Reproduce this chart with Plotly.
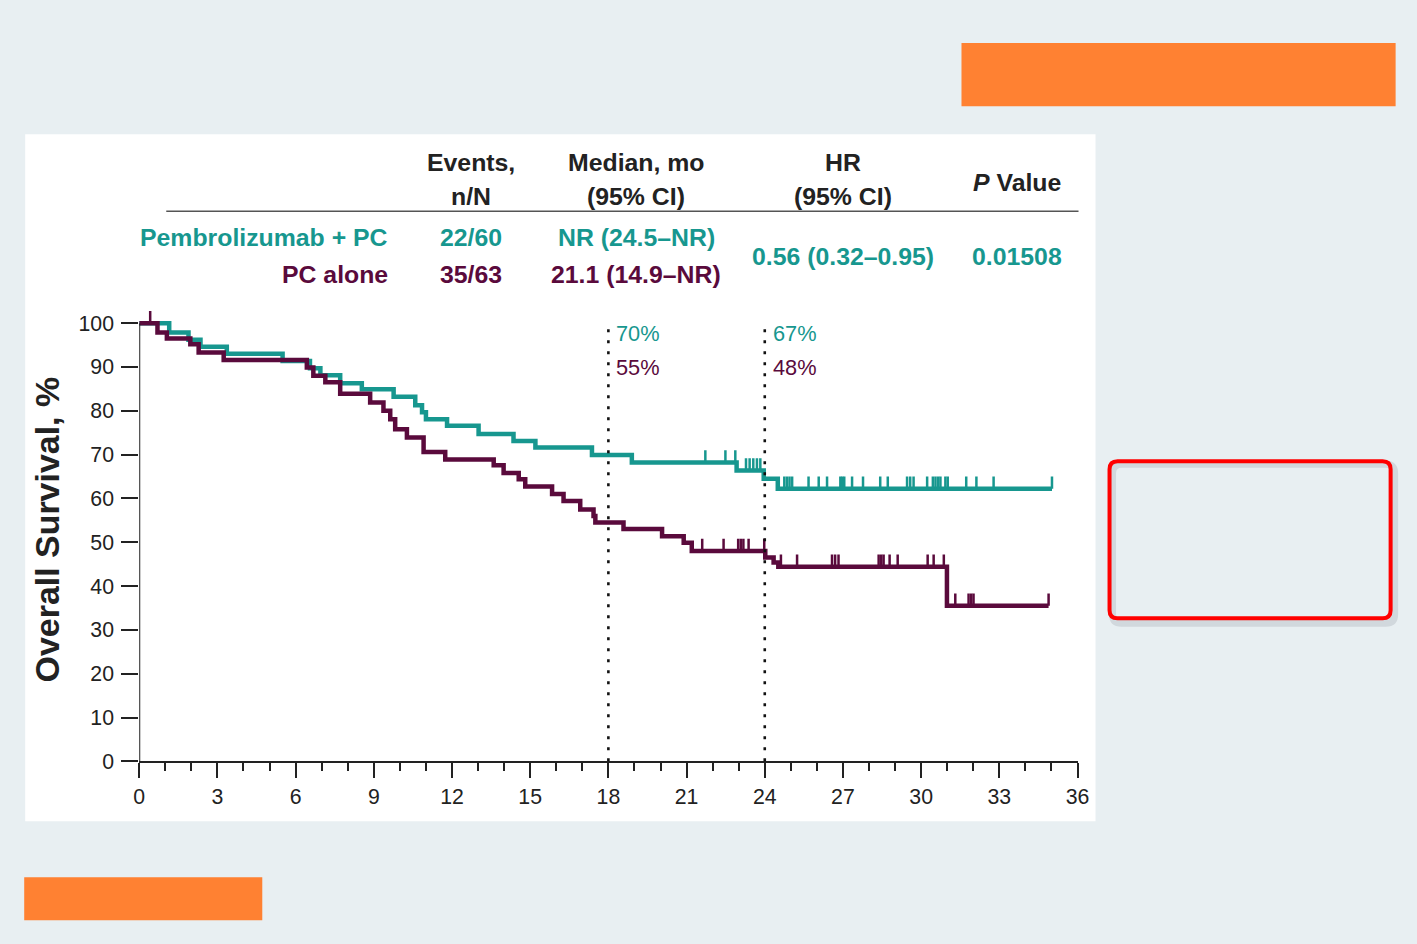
import plotly.graph_objects as go

# ---------------- data ----------------
months_ticks = list(range(0, 37, 3))
surv_ticks = list(range(0, 101, 10))

pembro_times = [0, 1.15, 1.89, 2.35, 3.36, 5.50, 6.55, 6.95, 7.71, 8.54, 9.76, 10.59, 10.85, 11.0,
                11.81, 13.02, 14.36, 15.2, 17.37, 18.9, 22.92, 23.96, 24.5]
pembro_surv = [100, 97.9, 96.2, 94.6, 93.0, 91.4, 89.7, 88.1, 86.3, 84.9, 83.2, 81.3, 79.7, 78.1,
               76.6, 74.7, 73.1, 71.6, 69.9, 68.2, 66.4, 64.5, 62.2]
pembro_end = 35.02
pembro_censor = [21.72, 22.49, 22.87, 23.28, 23.42, 23.56, 23.7, 23.83,
                 24.75, 24.85, 24.95, 25.05, 25.68, 26.07, 26.39, 26.9, 26.97, 27.05, 27.35, 27.77,
                 28.43, 28.72, 29.46, 29.58, 29.71, 30.23, 30.45, 30.55, 30.65, 30.74, 30.93, 31.02,
                 31.73, 32.12, 32.78, 35.02]

pc_times = [0, 0.70, 1.06, 1.96, 2.28, 3.24, 6.43, 6.68, 7.14, 7.71, 8.86, 9.37, 9.63, 9.82, 10.27,
            10.91, 11.74, 13.6, 13.98, 14.56, 14.81, 15.84, 16.28, 16.92, 17.43, 17.5, 18.58, 20.06,
            20.89, 21.2, 24.02, 24.34, 24.52, 30.99]
pc_surv = [100, 97.9, 96.5, 95.2, 93.3, 91.6, 89.9, 88.0, 86.5, 83.9, 81.9, 80.0, 78.1, 75.8, 73.9,
           70.6, 68.9, 67.6, 65.8, 64.4, 62.7, 61.0, 59.4, 57.5, 56.0, 54.5, 53.0, 51.4,
           49.9, 48.0, 46.5, 45.4, 44.4, 35.5]
pc_end = 34.89
pc_censor = [0.42, 21.6, 22.42, 22.98, 23.08, 23.18, 23.38, 23.98, 24.62, 25.24, 26.58, 26.7, 26.83,
             28.37, 28.47, 28.56, 28.79, 29.1, 30.25, 30.48, 30.87, 31.31, 31.82, 31.92, 32.01, 34.89]

landmarks = [18, 24]
landmark_pembro = ["70%", "67%"]
landmark_pc = ["55%", "48%"]

table_header = [["Events,", "n/N"], ["Median, mo", "(95% CI)"], ["HR", "(95% CI)"]]
arm_names = ["Pembrolizumab + PC", "PC alone"]
arm_events = ["22/60", "35/63"]
arm_median = ["NR (24.5–NR)", "21.1 (14.9–NR)"]
hr_text = "0.56 (0.32–0.95)"
p_text = "0.01508"

# ---------------- style ----------------
W, H = 1417, 944
TEAL = "#17978f"
PURP = "#5a0a3c"
BG = "#e8eff2"
ORANGE = "#ff8132"
SANS = "Liberation Sans, Arial, sans-serif"
TXT = "#222222"

# the page gets displayed slightly shrunk; compensate (target pixel -> layout pixel)
K = 0.987
OX, OY = 5.8, 0.9
TBL = 24.5 / K   # table font size
TICK = 21 / K    # tick label size


def lx(x):
    return (x - OX) / K


def ly(y):
    return (y - OY) / K


def px(x):
    return lx(x) / W


def py(y):
    return 1 - ly(y) / H


def step_value(times, surv, t):
    v = surv[0]
    for ti, si in zip(times, surv):
        if ti <= t:
            v = si
    return v


def censor_xy(times, surv, cens, h=2.8):
    xs, ys = [], []
    for t in cens:
        s = step_value(times, surv, t)
        xs += [t, t, None]
        ys += [s, s + h, None]
    return xs, ys


fig = go.Figure()

for times, surv, end, cens, col, name in [
    (pembro_times, pembro_surv, pembro_end, pembro_censor, TEAL, arm_names[0]),
    (pc_times, pc_surv, pc_end, pc_censor, PURP, arm_names[1]),
]:
    fig.add_trace(go.Scatter(x=times + [end], y=surv + [surv[-1]], mode="lines",
                             line=dict(color=col, width=4.5, shape="hv"), name=name,
                             showlegend=False, hoverinfo="skip"))
    cx, cy = censor_xy(times, surv, cens)
    fig.add_trace(go.Scatter(x=cx, y=cy, mode="lines", line=dict(color=col, width=2.5),
                             showlegend=False, hoverinfo="skip"))

shapes = []
# page panels
shapes.append(dict(type="rect", xref="paper", yref="paper", x0=px(25), x1=px(1095), y0=py(822), y1=py(135),
                   fillcolor="white", line=dict(width=0), layer="below"))
shapes.append(dict(type="rect", xref="paper", yref="paper", x0=px(961), x1=px(1395), y0=py(107), y1=py(44),
                   fillcolor=ORANGE, line=dict(width=0), layer="below"))
shapes.append(dict(type="rect", xref="paper", yref="paper", x0=px(24), x1=px(262), y0=py(921), y1=py(878),
                   fillcolor=ORANGE, line=dict(width=0), layer="below"))


def rounded(x0, y0, x1, y1, r):
    return (f"M {px(x0 + r)},{py(y0)} L {px(x1 - r)},{py(y0)} Q {px(x1)},{py(y0)} {px(x1)},{py(y0 + r)} "
            f"L {px(x1)},{py(y1 - r)} Q {px(x1)},{py(y1)} {px(x1 - r)},{py(y1)} "
            f"L {px(x0 + r)},{py(y1)} Q {px(x0)},{py(y1)} {px(x0)},{py(y1 - r)} "
            f"L {px(x0)},{py(y0 + r)} Q {px(x0)},{py(y0)} {px(x0 + r)},{py(y0)} Z")


# red box shadow + outline
shapes.append(dict(type="path", xref="paper", yref="paper", path=rounded(1112, 465, 1394, 624, 9),
                   line=dict(color="rgba(80,90,100,0.15)", width=7), layer="below"))
shapes.append(dict(type="path", xref="paper", yref="paper", path=rounded(1109, 462, 1390, 619, 8),
                   line=dict(color="#ff0000", width=4), layer="above"))
# header rule
shapes.append(dict(type="line", xref="paper", yref="paper", x0=px(166), x1=px(1078), y0=py(212), y1=py(212),
                   line=dict(color="#555555", width=1.5)))
# y axis line 0..100
shapes.append(dict(type="line", xref="x", yref="y", x0=0, x1=0, y0=0, y1=100,
                   line=dict(color=TXT, width=2)))
# landmark dotted lines
for lm in landmarks:
    shapes.append(dict(type="line", xref="x", yref="y", x0=lm, x1=lm, y0=0, y1=99.5,
                       line=dict(color="#111111", width=2.6, dash="3px,8px")))

ann = []
for lm, a, b in zip(landmarks, landmark_pembro, landmark_pc):
    ann.append(dict(x=lm + 0.22, y=97.6, xref="x", yref="y", text=a, showarrow=False,
                    xanchor="left", yanchor="middle", font=dict(family=SANS, size=21.5 / K, color=TEAL)))
    ann.append(dict(x=lm + 0.22, y=89.9, xref="x", yref="y", text=b, showarrow=False,
                    xanchor="left", yanchor="middle", font=dict(family=SANS, size=21.5 / K, color=PURP)))


def txt(x, y, text, font, xanchor="center"):
    return dict(x=px(x), y=py(y), xref="paper", yref="paper", text=text, showarrow=False,
                xanchor=xanchor, yanchor="middle", font=font)


hdr_font = dict(family=SANS, size=TBL, color=TXT)
for cxp, lines in zip([471, 636, 843], table_header):
    ann.append(txt(cxp, 163, f"<b>{lines[0]}</b>", hdr_font))
    ann.append(txt(cxp, 197, f"<b>{lines[1]}</b>", hdr_font))
ann.append(txt(1016, 183, "<b><i>P</i> Value</b>", hdr_font))

for i, (nm, ev, md, col) in enumerate(zip(arm_names, arm_events, arm_median, [TEAL, PURP])):
    yy = [238, 275][i]
    f = dict(family=SANS, size=TBL, color=col)
    ann.append(txt(390, yy, f"<b>{nm}</b>", f, xanchor="right"))
    ann.append(txt(471, yy, f"<b>{ev}</b>", f))
    ann.append(txt(636, yy, f"<b>{md}</b>", f))
ann.append(txt(843, 257, f"<b>{hr_text}</b>", dict(family=SANS, size=TBL, color=TEAL)))
ann.append(txt(1016, 257, f"<b>{p_text}</b>", dict(family=SANS, size=TBL, color=TEAL)))

title = txt(47, 530, "<b>Overall Survival, %</b>", dict(family=SANS, size=33.5 / K, color=TXT))
title["textangle"] = -90
ann.append(title)

YMAX = 105
top_px = 762 - YMAX * 4.38
fig.update_layout(
    width=W, height=H, paper_bgcolor=BG, plot_bgcolor="rgba(0,0,0,0)",
    margin=dict(l=0, r=0, t=0, b=0),
    shapes=shapes, annotations=ann,
    xaxis=dict(domain=[px(139), px(1077)], range=[0, 36], tickvals=months_ticks, ticks="outside",
               ticklen=15, tickwidth=2, tickcolor=TXT, showgrid=False, zeroline=False,
               showline=True, linecolor=TXT, linewidth=2,
               minor=dict(dtick=1, tick0=0, ticks="outside", ticklen=8, tickwidth=1.5, tickcolor=TXT),
               tickfont=dict(family=SANS, size=TICK, color=TXT), fixedrange=True),
    yaxis=dict(domain=[py(762), py(top_px)], range=[0, YMAX], tickvals=surv_ticks, ticks="outside",
               ticklen=17, tickwidth=2, tickcolor=TXT, showgrid=False, zeroline=False, showline=False,
               ticklabelstandoff=3,
               tickfont=dict(family=SANS, size=TICK, color=TXT), fixedrange=True),
)

post = ("document.documentElement.style.margin='0';document.body.style.margin='0';"
        "document.body.style.padding='0';document.documentElement.style.overflow='hidden';"
        "document.body.style.overflow='hidden';document.documentElement.style.background='" + BG + "';"
        "var d=document.getElementById('{plot_id}');d.style.position='fixed';d.style.left='0px';"
        "d.style.top='0px';")
fig.write_html("out.html", post_script=post, config={"displayModeBar": False})
